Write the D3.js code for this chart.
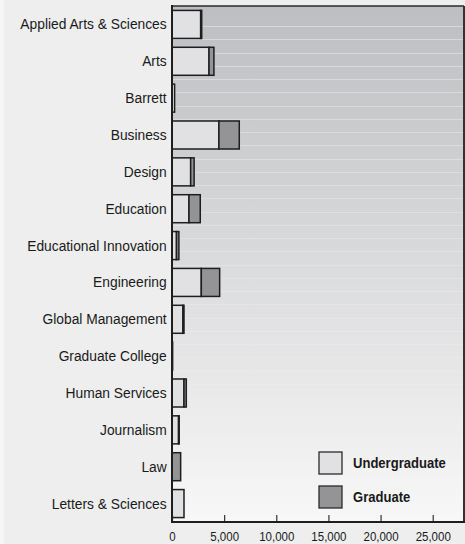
<!DOCTYPE html>
<html>
<head>
<meta charset="utf-8">
<script src="https://cdn.jsdelivr.net/npm/d3@7/dist/d3.min.js"></script>
<style>
  html, body { margin: 0; padding: 0; background: #eeeeee; }
  svg { display: block; }
  text { font-family: "Liberation Sans", Arial, sans-serif; fill: #1a1a1a; }
</style>
</head>
<body>
<svg id="chart" width="465" height="544"></svg>
<script>
const categories = [
  "Applied Arts & Sciences", "Arts", "Barrett", "Business", "Design", "Education",
  "Educational Innovation", "Engineering", "Global Management", "Graduate College",
  "Human Services", "Journalism", "Law", "Letters & Sciences"
];
const undergraduate = [2750, 3550, 250, 4500, 1790, 1630, 430, 2810, 1050, 0, 1150, 630, 0, 1150];
const graduate      = [100, 470, 0, 1950, 330, 1080, 230, 1760, 100, 60, 220, 60, 830, 0];
const seriesNames = ["Undergraduate", "Graduate"];
const xTicks = [0, 5000, 10000, 15000, 20000, 25000];

const W = 465, H = 544;
const m = { left: 172, top: 6, right: 464, bottom: 522 };
const svg = d3.select("#chart");

svg.append("rect").attr("x", 0).attr("y", 0).attr("width", W).attr("height", H).attr("fill", "#eeeeee");
svg.append("rect").attr("x", 0).attr("y", 0).attr("width", 4).attr("height", H).attr("fill", "#f6f6f6");

const defs = svg.append("defs");
const grad = defs.append("linearGradient").attr("id", "bg").attr("x1", 0).attr("y1", 0).attr("x2", 0).attr("y2", 1);
grad.append("stop").attr("offset", "0%").attr("stop-color", "#bdbec1");
grad.append("stop").attr("offset", "100%").attr("stop-color", "#f8f8f8");

const x = d3.scaleLinear().domain([0, 28000]).range([m.left, m.right]);
const y = d3.scaleBand().domain(categories).range([m.top, m.bottom]).paddingInner(0.24).paddingOuter(0.12);

svg.append("rect").attr("x", m.left).attr("y", m.top)
  .attr("width", m.right - m.left).attr("height", m.bottom - m.top)
  .attr("fill", "url(#bg)");

// decorative light bands
const bandG = svg.append("g");
for (let yy = 26; yy < m.bottom - 4; yy += 13.25) {
  const t = (yy - m.top) / (m.bottom - m.top);
  bandG.append("line").attr("x1", m.left).attr("x2", m.right)
    .attr("y1", Math.round(yy) + 0.5).attr("y2", Math.round(yy) + 0.5)
    .attr("stroke", "#ffffff").attr("stroke-opacity", 0.35 * (1 - t) + 0.05)
    .attr("stroke-width", 1);
}

const data = categories.map((c, i) => ({ c, u: undergraduate[i], g: graduate[i] }));
const colors = { Undergraduate: "#e1e1e3", Graduate: "#949496" };

const barG = svg.append("g");
data.forEach(d => {
  if (d.u > 0) {
    barG.append("rect")
      .attr("x", x(0)).attr("y", y(d.c))
      .attr("width", x(d.u) - x(0)).attr("height", y.bandwidth())
      .attr("fill", colors.Undergraduate).attr("stroke", "#1e1e1e").attr("stroke-width", 1.5);
  }
  if (d.g > 0) {
    barG.append("rect")
      .attr("x", x(d.u)).attr("y", y(d.c))
      .attr("width", x(d.u + d.g) - x(d.u)).attr("height", y.bandwidth())
      .attr("fill", colors.Graduate).attr("stroke", "#1e1e1e").attr("stroke-width", 1.5);
  }
});

// frame
svg.append("line").attr("x1", m.left).attr("x2", m.right).attr("y1", m.top).attr("y2", m.top)
  .attr("stroke", "#2a2a2a").attr("stroke-width", 1.5);
svg.append("line").attr("x1", m.right).attr("x2", m.right).attr("y1", m.top).attr("y2", m.bottom)
  .attr("stroke", "#333333").attr("stroke-width", 2);

// x axis
const xAxis = d3.axisBottom(x).tickValues(xTicks).tickSize(-7).tickPadding(10).tickFormat(d3.format(","));
const gx = svg.append("g").attr("transform", `translate(0,${m.bottom})`).call(xAxis);
gx.select(".domain").remove();
gx.selectAll(".tick line").attr("stroke", "#333").attr("stroke-width", 1.2);
gx.selectAll(".tick text").attr("font-size", 12.5).attr("fill", "#1a1a1a")
  .style("font-family", '"Liberation Sans", Arial, sans-serif')
  .attr("transform", "scale(0.92,1)");
svg.append("line").attr("x1", m.left - 1).attr("x2", m.right + 1).attr("y1", m.bottom).attr("y2", m.bottom)
  .attr("stroke", "#1e1e1e").attr("stroke-width", 2);

// y axis
const yAxis = d3.axisLeft(y).tickSize(0).tickPadding(6);
const gy = svg.append("g").attr("transform", `translate(${m.left},0)`).call(yAxis);
gy.select(".domain").remove();
gy.selectAll(".tick text").attr("font-size", 15.5).attr("fill", "#1a1a1a")
  .style("font-family", '"Liberation Sans", Arial, sans-serif')
  .attr("transform", "scale(0.89,1)");
svg.append("line").attr("x1", m.left).attr("x2", m.left).attr("y1", m.top - 1).attr("y2", m.bottom)
  .attr("stroke", "#1e1e1e").attr("stroke-width", 2);

// legend
const leg = svg.append("g").attr("transform", "translate(319,452)");
seriesNames.forEach((s, i) => {
  const g = leg.append("g").attr("transform", `translate(0,${i * 34})`);
  g.append("rect").attr("x", 0).attr("y", 0).attr("width", 23).attr("height", 22)
    .attr("fill", colors[s]).attr("stroke", "#2a2a2a").attr("stroke-width", 1.3);
  g.append("g").attr("transform", "translate(34,11) scale(0.9,1)")
    .append("text").attr("x", 0).attr("y", 0).attr("dy", "0.36em")
    .attr("font-size", 14.5).attr("font-weight", "bold").text(s);
});
</script>
</body>
</html>
